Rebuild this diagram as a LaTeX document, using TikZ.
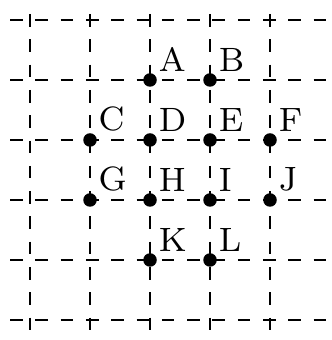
\documentclass[tikz,border=0pt]{standalone}
\usepackage{tikz}

\tikzset{
  gridline/.style={dashed,thin},
  dot/.style={circle,fill,inner sep=0pt,minimum size=3.2pt},
  lbl/.style={font=\footnotesize,inner sep=0.6pt,label distance=0pt}
}

\begin{document}
\begin{tikzpicture}[x=0.5cm,y=0.5cm]
  \useasboundingbox (-0.5,-0.3333) rectangle (5.0167,5.3333);
  \clip (-0.5,-0.3333) rectangle (5.0167,5.3333);

  % dashed grid
  \foreach \y in {0,...,5}
    \draw[gridline] (-0.3333,\y) -- (5.6,\y);
  \foreach \x in {0,...,4}
    \draw[gridline] (\x,5.1) -- (\x,-0.6);

  % points
  \node[dot,label={[lbl]above right:A}] (A) at (2,4) {};
  \node[dot,label={[lbl]above right:B}] (B) at (3,4) {};
  \node[dot,label={[lbl]above right:C}] (C) at (1,3) {};
  \node[dot,label={[lbl]above right:D}] (D) at (2,3) {};
  \node[dot,label={[lbl]above right:E}] (E) at (3,3) {};
  \node[dot,label={[lbl]above right:F}] (F) at (4,3) {};
  \node[dot,label={[lbl]above right:G}] (G) at (1,2) {};
  \node[dot,label={[lbl]above right:H}] (H) at (2,2) {};
  \node[dot,label={[lbl]above right:I}] (I) at (3,2) {};
  \node[dot,label={[lbl]above right:J}] (J) at (4,2) {};
  \node[dot,label={[lbl]above right:K}] (K) at (2,1) {};
  \node[dot,label={[lbl]above right:L}] (L) at (3,1) {};
\end{tikzpicture}
\end{document}
